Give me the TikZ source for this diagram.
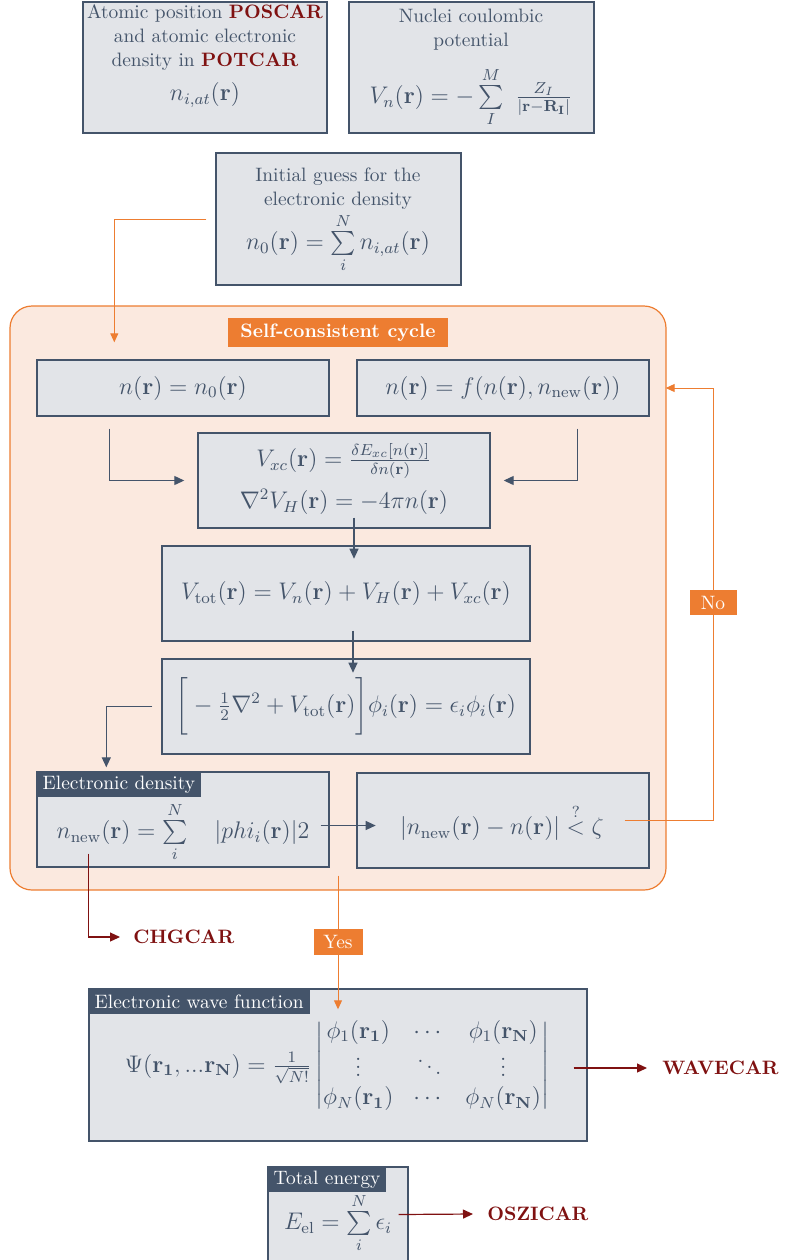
\documentclass[tikz,border=0pt]{standalone}
\usepackage{amsmath}
\usetikzlibrary{arrows.meta,fit,calc}

\definecolor{slate}{HTML}{44546A}
\definecolor{boxfill}{HTML}{E2E4E8}
\definecolor{cyclefill}{HTML}{FBE9DF}
\definecolor{accent}{HTML}{ED7D31}
\definecolor{filered}{HTML}{7F1111}

\newcommand{\prosefont}{\fontsize{9.7}{12}\selectfont}
\newcommand{\eqfont}{\fontsize{11.6}{14}\selectfont}

\begin{document}
\begin{tikzpicture}[x=0.5pt,y=-0.5pt,
  box/.style={draw=slate, fill=boxfill, line width=0.7pt, inner sep=0pt},
  txt/.style={text=slate, align=center, inner sep=1pt, font=\prosefont},
  eq/.style={text=slate, align=center, inner sep=1pt, font=\eqfont},
  tag/.style={fill=slate, text=white, anchor=north west, inner xsep=3pt,
              inner ysep=0pt, minimum height=12.8pt, font=\prosefont},
  flow/.style={draw=slate, line width=0.6pt, -{Triangle[length=5pt,width=4.5pt]}},
  loopline/.style={draw=accent, line width=0.5pt, -{Triangle[length=4.5pt,width=4pt]}},
  outline/.style={draw=filered, line width=0.6pt, -{Triangle[length=5pt,width=4.5pt]}},
  filename/.style={text=filered, font=\prosefont\bfseries, anchor=west, inner sep=0pt},
  badge/.style={fill=accent, text=white, inner sep=0pt, font=\prosefont}
]
\useasboundingbox (0,0) rectangle (785,1260);

% input data
\node[box, fit={(83,2) (327,133)}] (atoms) {};
\node[txt] at (205,38) {Atomic position \textcolor{filered}{\textbf{POSCAR}}\\
  and atomic electronic\\ density in \textcolor{filered}{\textbf{POTCAR}}};
\node[eq] at (205,95) {$n_{i,at}(\mathbf{r})$};

\node[box, fit={(349,2) (594,133)}] (nuclei) {};
\node[txt] at (471,30) {Nuclei coulombic\\ potential};
\node[eq] at (471,97) {$V_n(\mathbf{r}) = -\sum\limits_{I}^{M}\ \frac{Z_I}{|\mathbf{r}-\mathbf{R_I}|}$};

\node[box, fit={(216,153) (461,285)}] (guess) {};
\node[txt] at (338,189) {Initial guess for the\\ electronic density};
\node[eq] at (338,243) {$n_0(\mathbf{r}) = \sum\limits_{i}^{N} n_{i,at}(\mathbf{r})$};

% self-consistent cycle
\node[draw=accent, fill=cyclefill, line width=0.6pt, rounded corners=11pt,
      inner sep=0pt, fit={(10,306) (666,890)}] (cycle) {};
\node[badge, font=\prosefont\bfseries, minimum width=110pt, minimum height=14.5pt]
      (title) at (338,332.5) {Self-consistent cycle};

\node[box, fit={(37,360) (329,416)}] (init) {};
\node[eq] at (init.center) {$n(\mathbf{r}) = n_0(\mathbf{r})$};

\node[box, fit={(357,360) (649,416)}] (mix) {};
\node[eq] at (mix.center) {$n(\mathbf{r}) = f(n(\mathbf{r}), n_{\mathrm{new}}(\mathbf{r}))$};

\node[box, fit={(198,433) (490,528)}] (pot) {};
\node[eq] at (344,461) {$V_{xc}(\mathbf{r}) = \frac{\delta E_{xc}[n(\mathbf{r})]}{\delta n(\mathbf{r})}$};
\node[eq] at (344,502) {$\nabla^2 V_H(\mathbf{r}) = -4\pi n(\mathbf{r})$};

\node[box, fit={(162,546) (530,641)}] (vtot) {};
\node[eq] at (vtot.center) {$V_{\mathrm{tot}}(\mathbf{r}) = V_n(\mathbf{r}) + V_H(\mathbf{r}) + V_{xc}(\mathbf{r})$};

\node[box, fit={(162,659) (530,754)}] (ks) {};
\node[eq] at (ks.center) {$\bigg[-\frac{1}{2}\nabla^2 + V_{\mathrm{tot}}(\mathbf{r})\bigg]\phi_i(\mathbf{r}) = \epsilon_i\phi_i(\mathbf{r})$};

\node[box, fit={(37,772) (329,867)}] (dens) {};
\node[tag] at (dens.north west) {Electronic density};
\node[eq] at (183,832) {$n_{\mathrm{new}}(\mathbf{r}) = \sum\limits_{i}^{N} \quad |phi_i(\mathbf{r})|2$};

\node[box, fit={(357,773) (649,868)}] (conv) {};
\node[eq] at (502,822) {$|n_{\mathrm{new}}(\mathbf{r}) - n(\mathbf{r})| \overset{?}{<} \zeta$};

% results
\node[box, fit={(89,989) (587,1141)}] (wave) {};
\node[tag] at (wave.north west) {Electronic wave function};
\node[eq] at (337,1066) {$\Psi(\mathbf{r_1},...\mathbf{r_N}) = \frac{1}{\sqrt{N!}}
  \begin{vmatrix}
    \phi_1(\mathbf{r_1}) & \cdots & \phi_1(\mathbf{r_N})\\
    \vdots & \ddots & \vdots\\
    \phi_N(\mathbf{r_1}) & \cdots & \phi_N(\mathbf{r_N})
  \end{vmatrix}$};

\node[box, fit={(268,1167) (408,1268)}] (energy) {};
\node[tag] at (energy.north west) {Total energy};
\node[eq] at (338,1223) {$E_{\mathrm{el}} = \sum\limits_{i}^{N} \epsilon_i$};

\node[filename] (chg) at (133,937) {CHGCAR};
\node[filename] (wavecar) at (662,1068) {WAVECAR};
\node[filename] (osz) at (487,1214) {OSZICAR};

% connectors
\draw[loopline] ($(guess.west)+(-9,0)$) -| ($(init.north west)+(78,-17)$);
\draw[flow] ($(init.south west)+(73,12)$) |- ($(pot.west)+(-13,0)$);
\draw[flow] ($(mix.south east)+(-72,12)$) |- ($(pot.east)+(13,0)$);
\draw[flow] ($(pot.south)+(10,-11)$) -- ++(0,41);
\draw[flow] ($(vtot.south)+(7,-11)$) -- ++(0,42);
\draw[flow] ($(ks.west)+(-9,0)$) -| ($(dens.north west)+(70,-4)$);
\draw[flow] ($(dens.east)+(-9,6)$) -- ++(55,0);

\draw[loopline] ($(conv.east)+(-25,0)$) -- ++(89,0) |- ($(mix.east)+(16,0)$);
\node[badge, minimum width=23.5pt, minimum height=12.5pt] (no) at (713,602.5) {No};

\draw[loopline] ($(cycle.south)+(0,-15)$) -- ($(wave.north)+(0,21)$);
\node[badge, minimum width=24.5pt, minimum height=13pt] (yes) at (338,942) {Yes};

\draw[outline] ($(dens.south west)+(52,-14)$) |- ($(chg.west)+(-13,0)$);
\draw[outline] ($(wave.east)+(-14,3)$) -- ($(wavecar.west)+(-15,0)$);
\draw[outline] ($(energy.east)+(-10,-3)$) -- ($(osz.west)+(-14,0)$);
\end{tikzpicture}
\end{document}
